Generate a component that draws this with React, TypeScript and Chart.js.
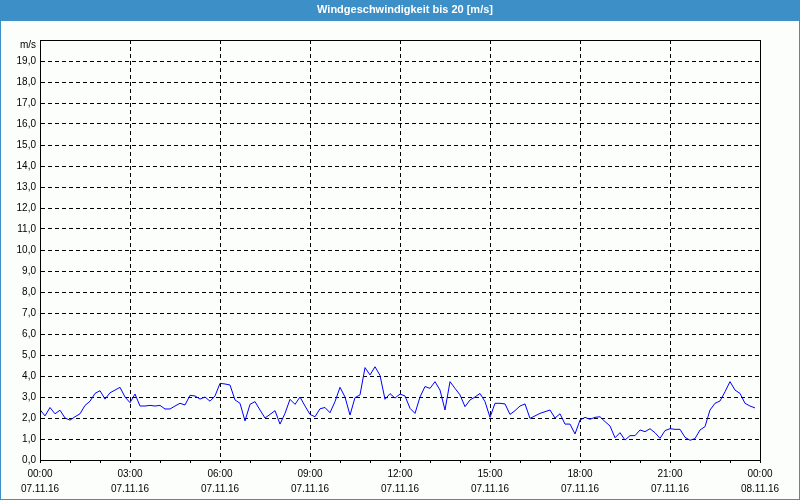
import React, { useEffect, useRef } from "react";
import { Chart, registerables } from "chart.js";

Chart.register(...registerables);

const TITLE = "Windgeschwindigkeit bis 20 [m/s]";
const UNIT = "m/s";
const SAMPLE_MINUTES = 10;
const DAY1 = "07.11.16";
const DAY2 = "08.11.16";

// wind speed in m/s, one value every 10 minutes from 00:00 to 23:50
const speedNight = [2.4, 2.1, 2.5, 2.2, 2.37, 2.0, 1.9, 2.06, 2.2, 2.6, 2.8, 3.17, 3.3, 2.9, 3.2, 3.33, 3.46, 3.0, 2.73, 3.14, 2.57, 2.57, 2.6, 2.57, 2.6, 2.43, 2.43, 2.57, 2.7, 2.62, 3.08, 3.05, 2.9, 3.0, 2.8, 3.05];
const speedMorning = [3.65, 3.62, 3.57, 2.86, 2.7, 1.86, 2.65, 2.78, 2.38, 2.0, 2.17, 2.35, 1.71, 2.22, 2.89, 2.65, 3.0, 2.57, 2.17, 2.06, 2.44, 2.5, 2.25, 2.78, 3.46, 3.0, 2.14, 2.97, 3.1, 4.4, 4.05, 4.44, 4.03, 2.89, 3.16, 2.95];
const speedAfternoon = [3.14, 3.05, 2.46, 2.22, 3.0, 3.5, 3.41, 3.73, 3.33, 2.38, 3.73, 3.41, 3.1, 2.54, 2.86, 3.0, 3.17, 2.78, 2.03, 2.7, 2.7, 2.67, 2.17, 2.35, 2.57, 2.67, 1.98, 2.1, 2.22, 2.3, 2.38, 2.0, 2.2, 1.71, 1.71, 1.24];
const speedEvening = [1.9, 2.03, 1.94, 2.03, 2.06, 1.83, 1.62, 1.06, 1.3, 0.95, 1.16, 1.16, 1.43, 1.35, 1.49, 1.3, 1.03, 1.4, 1.49, 1.46, 1.46, 1.08, 0.94, 1.02, 1.43, 1.59, 2.38, 2.7, 2.81, 3.25, 3.73, 3.33, 3.17, 2.7, 2.57, 2.48];

const speeds = [...speedNight, ...speedMorning, ...speedAfternoon, ...speedEvening];

const BLUE = "#3c8fc7";
const FONT = "'Liberation Sans', Arial, sans-serif";

function fmtTime(min: number): string {
  const h = Math.floor(min / 60) % 24;
  const m = min % 60;
  return String(h).padStart(2, "0") + ":" + String(m).padStart(2, "0");
}

const framePlugin = {
  id: "frame",
  beforeDraw(chart: any) {
    const { ctx, width, height } = chart;
    ctx.save();
    ctx.fillStyle = "#fcfefc";
    ctx.fillRect(0, 0, width, height);
    ctx.fillStyle = BLUE;
    ctx.fillRect(0, 0, width, 21);
    ctx.strokeStyle = BLUE;
    ctx.lineWidth = 1;
    ctx.strokeRect(0.5, 0.5, width - 1, height - 1);
    ctx.fillStyle = "#ffffff";
    ctx.font = "bold 11px " + FONT;
    ctx.textAlign = "center";
    ctx.textBaseline = "middle";
    ctx.fillText(TITLE, width / 2 + 5, 10);
    ctx.restore();
  },
  afterDraw(chart: any) {
    const { ctx, chartArea } = chart;
    ctx.save();
    ctx.strokeStyle = "#000";
    ctx.lineWidth = 1;
    ctx.strokeRect(
      Math.round(chartArea.left) + 0.5,
      Math.round(chartArea.top) + 0.5,
      Math.round(chartArea.right - chartArea.left),
      Math.round(chartArea.bottom - chartArea.top)
    );
    ctx.fillStyle = "#000";
    ctx.font = "10px " + FONT;
    ctx.textAlign = "right";
    ctx.textBaseline = "middle";
    ctx.fillText(UNIT, chartArea.left - 4, chartArea.top + 5);
    ctx.restore();
  },
};

export default function App() {
  const ref = useRef<HTMLCanvasElement | null>(null);
  useEffect(() => {
    if (!ref.current) return;
    const data = speeds.map((v, i) => ({ x: i * SAMPLE_MINUTES, y: v }));
    const chart = new Chart(ref.current, {
      type: "line",
      data: {
        datasets: [
          {
            data,
            borderColor: "#0000ff",
            borderWidth: 1,
            pointRadius: 0,
            tension: 0,
            fill: false,
          },
        ],
      },
      options: {
        responsive: false,
        animation: false,
        layout: { padding: { top: 40, right: 40, left: 0, bottom: 0 } },
        plugins: { legend: { display: false }, title: { display: false }, tooltip: { enabled: false } },
        scales: {
          x: {
            type: "linear",
            min: 0,
            max: 1440,
            afterFit(scale: any) {
              scale.height = 40;
            },
            ticks: {
              stepSize: 60,
              autoSkip: false,
              maxRotation: 0,
              padding: 3.5,
              color: "#000",
              font: { family: FONT, size: 10, lineHeight: 1.5 },
              callback: (v: any) => {
                const n = Number(v);
                if (n % 180 !== 0) return "";
                return [fmtTime(n), n >= 1440 ? DAY2 : DAY1];
              },
            },
            grid: {
              color: (c: any) => {
                const n = c.tick ? c.tick.value : 0;
                return n % 180 === 0 && n > 0 && n < 1440 ? "#000" : "rgba(0,0,0,0)";
              },
              tickColor: "#000",
              tickLength: 3,
              lineWidth: 1,
            },
            border: { display: true, color: "#000", width: 1, dash: [4, 3] },
          },
          y: {
            min: 0,
            max: 20,
            afterFit(scale: any) {
              scale.width = 40;
            },
            ticks: {
              stepSize: 1,
              padding: 4,
              color: "#000",
              font: { family: FONT, size: 10 },
              callback: (v: any) => {
                const n = Number(v);
                if (n >= 20) return "";
                return n.toFixed(1).replace(".", ",");
              },
            },
            grid: {
              drawTicks: false,
              color: (c: any) => {
                const n = c.tick ? c.tick.value : 0;
                return n > 0 && n < 20 ? "#000" : "rgba(0,0,0,0)";
              },
              lineWidth: 1,
            },
            border: { display: true, color: "#000", width: 1, dash: [4, 3] },
          },
        },
      },
      plugins: [framePlugin],
    });
    return () => chart.destroy();
  }, []);
  return (
    <div style={{ position: "fixed", left: 0, top: 0, width: 800, height: 500 }}>
      <canvas ref={ref} width={800} height={500} style={{ display: "block", width: 800, height: 500 }} />
    </div>
  );
}
